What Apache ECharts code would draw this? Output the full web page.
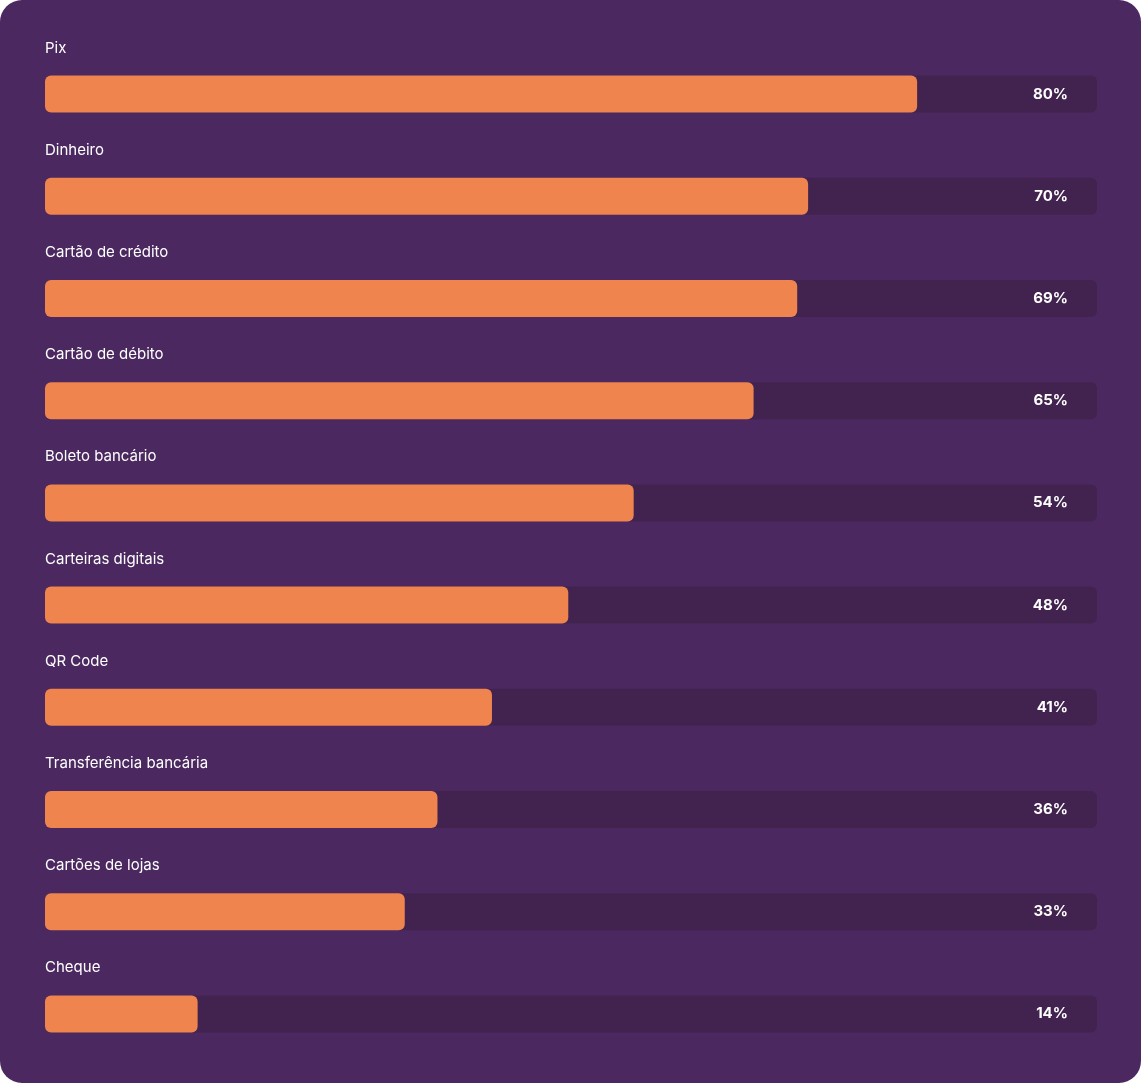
<!DOCTYPE html>
<html><head><meta charset="utf-8">
<script src="https://cdn.jsdelivr.net/npm/echarts@6/dist/echarts.min.js"></script>
<style>
html,body{margin:0;padding:0;background:#fff;}
#c{width:1141px;height:1083px;background:#4B2960;border-radius:22px;overflow:hidden;}
</style></head><body>
<div id="c"></div>
<script>
const categories = ["Pix","Dinheiro","Cartão de crédito","Cartão de débito","Boleto bancário","Carteiras digitais","QR Code","Transferência bancária","Cartões de lojas","Cheque"];
const values = [80,70,69,65,54,48,41,36,33,14];
const axisMax = 96.5;

const chart = echarts.init(document.getElementById('c'), null, {renderer:'canvas'});
chart.setOption({
  backgroundColor: 'transparent',
  animation: false,
  grid: {left:45, right:44, top:43, bottom:18},
  xAxis: {type:'value', min:0, max:axisMax, show:false},
  yAxis: {type:'category', data:categories, inverse:true, show:false},
  series: [
    {
      type:'bar', barWidth:37, z:1, silent:true,
      data: values.map(() => axisMax),
      itemStyle:{color:'#42234F', borderRadius:6},
      label:{show:true, position:'insideRight', distance:29,
        formatter: p => values[p.dataIndex] + '%',
        color:'#FFFFFF', fontFamily:'Inter', fontWeight:'bold', fontSize:15}
    },
    {
      type:'bar', barWidth:37, barGap:'-100%', z:2,
      data: values,
      itemStyle:{color:'#EF844F', borderRadius:6},
      label:{show:true, position:[0,-35], formatter: p => p.name,
        color:'#FFFFFF', fontFamily:'Inter', fontSize:15}
    }
  ]
});
</script>
</body></html>
